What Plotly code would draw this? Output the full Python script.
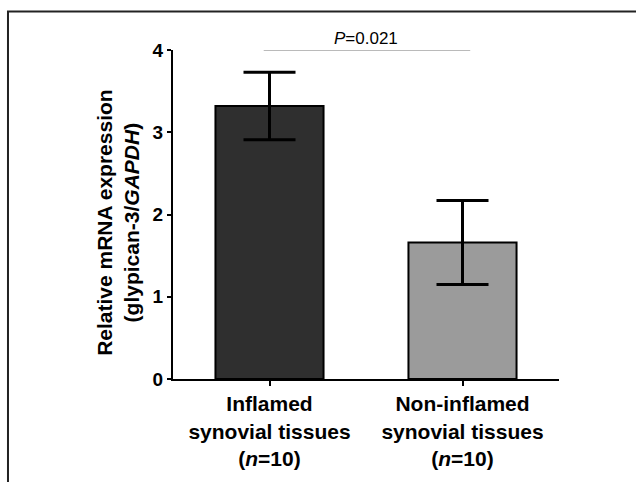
import plotly.graph_objects as go

categories = ["Inflamed", "Non-inflamed"]
tick_labels = ["<b>Inflamed<br>synovial tissues<br>(<i>n</i>=10)</b>",
               "<b>Non-inflamed<br>synovial tissues<br>(<i>n</i>=10)</b>"]
means = [3.32, 1.66]
errors = [0.41, 0.51]
y_ticks = [0, 1, 2, 3, 4]
bar_colors = ["#2f2f2f", "#9b9b9b"]
p_text = "<i>P</i>=0.021"
p_level = 4.0

FONT = "Arial, Liberation Sans, Helvetica, sans-serif"

fig = go.Figure()
fig.add_trace(go.Bar(
    x=[0, 1], y=means, width=0.56,
    marker=dict(color=bar_colors, line=dict(color="black", width=2)),
    error_y=dict(type="data", array=errors, visible=True,
                 color="black", thickness=3, width=26),
    showlegend=False,
))

# significance line
fig.add_shape(type="line", xref="x", yref="y", x0=-0.03, x1=1.04,
              y0=p_level, y1=p_level, line=dict(color="#777777", width=1.2))
fig.add_annotation(x=0.5, y=p_level, xref="x", yref="y", text=p_text,
                   showarrow=False, yanchor="bottom", xanchor="center", yshift=0,
                   font=dict(family=FONT, size=17, color="black"))

# y-axis title
fig.add_annotation(x=-0.143, y=0.477, xref="paper", yref="paper",
                   text="<b>Relative mRNA expression<br>(glypican-3/<i>GAPDH</i>)</b>",
                   textangle=-90, showarrow=False,
                   xanchor="center", yanchor="middle",
                   font=dict(family=FONT, size=21, color="black"))

# outer frame
fig.add_shape(type="rect", xref="paper", yref="paper",
              x0=-0.4275, x1=1.3, y0=-1.0, y1=1.117,
              line=dict(color="#222222", width=2), layer="below")

fig.update_layout(
    width=636, height=482,
    margin=dict(l=173, r=77, t=50, b=99),
    paper_bgcolor="white", plot_bgcolor="white",
    font=dict(family=FONT, color="black"),
)
fig.update_xaxes(range=[-0.5, 1.5], tickvals=[0, 1], ticktext=tick_labels,
                 showline=True, linecolor="black", linewidth=2,
                 ticks="outside", ticklen=5, tickwidth=2, tickcolor="black",
                 showgrid=False, zeroline=False,
                 tickfont=dict(family=FONT, size=21, color="black"))
fig.update_yaxes(range=[0, 4], tickvals=y_ticks,
                 ticktext=["<b>%d</b>" % v for v in y_ticks],
                 showline=True, linecolor="black", linewidth=2,
                 ticks="outside", ticklen=4, tickwidth=2, tickcolor="black",
                 showgrid=False, zeroline=False,
                 tickfont=dict(family=FONT, size=19, color="black"))

fig.write_html("out.html")
